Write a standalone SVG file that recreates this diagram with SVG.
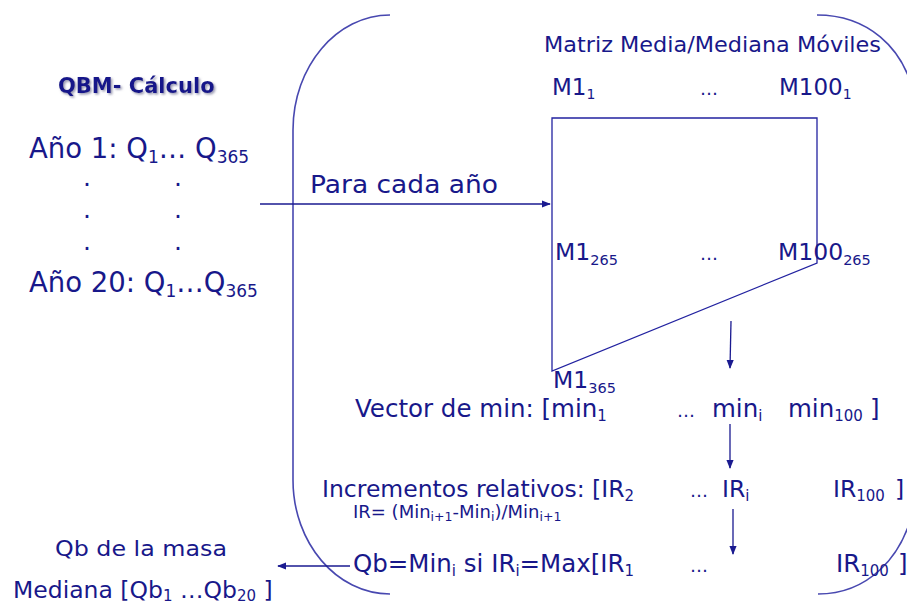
<svg xmlns="http://www.w3.org/2000/svg" width="907" height="604" viewBox="0 0 907 604">
<defs>
<style>
.t{font-family:"DejaVu Sans","Liberation Sans",sans-serif;fill:#18188a}
.line{fill:none;stroke:#2222a0;stroke-width:1.3}
.br{fill:none;stroke:#4848b0;stroke-width:1.6}
.ar{fill:none;stroke:#1a1a90;stroke-width:1.3}
</style>
<marker id="ah" viewBox="0 0 10 10" refX="9" refY="5" markerWidth="9" markerHeight="9" markerUnits="userSpaceOnUse" orient="auto">
<path d="M0,1 L10,5 L0,9 z" fill="#1a1a90"/>
</marker>
<filter id="sh" x="-10%" y="-30%" width="130%" height="160%">
<feDropShadow dx="1.5" dy="1.5" stdDeviation="0.8" flood-color="#7a7a9a" flood-opacity="0.8"/>
</filter>
</defs>

<g id="bracket">
<path class="br" d="M390,15 C336.6,15 293,66.5 293,130 L293,480 C293,543 336.6,594 390,594"/>
<path class="br" d="M817,15 C865,15 905,45 915,100 L915,500 C905,560 865,594 818,594"/>
</g>

<g id="title">
<text class="t" x="58" y="93" font-size="21" font-weight="bold" fill="#1a1a6e" filter="url(#sh)">QBM- Cálculo</text>
</g>

<g id="years">
<text class="t" x="29" y="158" font-size="27.5">Año 1: Q<tspan font-size="17" dy="5">1</tspan><tspan dy="-5">…</tspan> Q<tspan font-size="17" dy="5">365</tspan></text>
<text class="t" x="83" y="186" font-size="25">.</text>
<text class="t" x="174" y="186" font-size="25">.</text>
<text class="t" x="83" y="218" font-size="25">.</text>
<text class="t" x="174" y="218" font-size="25">.</text>
<text class="t" x="83" y="250" font-size="25">.</text>
<text class="t" x="174" y="250" font-size="25">.</text>
<text class="t" x="29" y="292" font-size="27.5">Año 20: Q<tspan font-size="17" dy="5">1</tspan><tspan dy="-5">…</tspan>Q<tspan font-size="17" dy="5">365</tspan></text>
</g>

<g id="para">
<text class="t" x="310" y="193" font-size="25" textLength="188" lengthAdjust="spacingAndGlyphs">Para cada año</text>
</g>

<g id="matrix">
<text class="t" x="544" y="52" font-size="22" textLength="337" lengthAdjust="spacingAndGlyphs">Matriz Media/Mediana Móviles</text>
<text class="t" x="552" y="95" font-size="23">M1<tspan font-size="14" dy="4">1</tspan></text>
<text class="t" x="700" y="95" font-size="18">…</text>
<text class="t" x="779" y="95" font-size="23">M100<tspan font-size="14" dy="4">1</tspan></text>
<path class="line" d="M552,118 L817,118 L817,263 L552,371 Z"/>
<text class="t" x="555" y="260" font-size="23.5">M1<tspan font-size="14.5" dy="5">265</tspan></text>
<text class="t" x="700" y="260" font-size="18">…</text>
<text class="t" x="778" y="260" font-size="23.5">M100<tspan font-size="14.5" dy="5">265</tspan></text>
<text class="t" x="553" y="388" font-size="23.5">M1<tspan font-size="14.5" dy="5">365</tspan></text>
</g>

<g id="vector">
<text class="t" x="355" y="417" font-size="24.5">Vector de min: [min<tspan font-size="15" dy="4">1</tspan><tspan x="677" dy="-4" font-size="18">…</tspan><tspan x="712">min</tspan><tspan font-size="15" dy="4">i</tspan><tspan x="788" dy="-4">min</tspan><tspan font-size="15" dy="4">100</tspan><tspan x="870" dy="-4">]</tspan></text>
</g>

<g id="incrementos">
<text class="t" x="322" y="497" font-size="23.5">Incrementos relativos: [IR<tspan font-size="15" dy="4">2</tspan><tspan x="690" dy="-4" font-size="18">…</tspan><tspan x="722">IR</tspan><tspan font-size="15" dy="4">i</tspan><tspan x="833" dy="-4">IR</tspan><tspan font-size="15" dy="4">100</tspan><tspan x="895" dy="-4">]</tspan></text>
<text class="t" x="353" y="518" font-size="18">IR= (Min<tspan font-size="12.5" dy="3">i+1</tspan><tspan dy="-3">-Min</tspan><tspan font-size="12.5" dy="3">i</tspan><tspan dy="-3">)/Min</tspan><tspan font-size="12.5" dy="3">i+1</tspan></text>
</g>

<g id="qb">
<text class="t" x="353" y="572" font-size="24.5">Qb=Min<tspan font-size="15" dy="4">i</tspan><tspan dy="-4"> si IR</tspan><tspan font-size="15" dy="4">i</tspan><tspan dy="-4">=Max[IR</tspan><tspan font-size="15" dy="4">1</tspan><tspan x="690" dy="-4" font-size="18">…</tspan><tspan x="836">IR</tspan><tspan font-size="15" dy="4">100</tspan><tspan x="898" dy="-4">]</tspan></text>
</g>

<g id="result">
<text class="t" x="55" y="556" font-size="22" textLength="172" lengthAdjust="spacingAndGlyphs">Qb de la masa</text>
<text class="t" x="13" y="598" font-size="23.5">Mediana [Qb<tspan font-size="15" dy="3">1</tspan><tspan dy="-3"> …Qb</tspan><tspan font-size="15" dy="3">20</tspan><tspan dy="-3"> ]</tspan></text>
</g>

<g id="connectors">
<line class="ar" x1="260" y1="204" x2="550" y2="204" marker-end="url(#ah)"/>
<line class="ar" x1="731" y1="321" x2="730" y2="368" marker-end="url(#ah)"/>
<line class="ar" x1="730" y1="424" x2="730" y2="468" marker-end="url(#ah)"/>
<line class="ar" x1="733" y1="509" x2="733" y2="554" marker-end="url(#ah)"/>
<line class="ar" x1="350" y1="566" x2="278" y2="566" marker-end="url(#ah)"/>
</g>
</svg>
